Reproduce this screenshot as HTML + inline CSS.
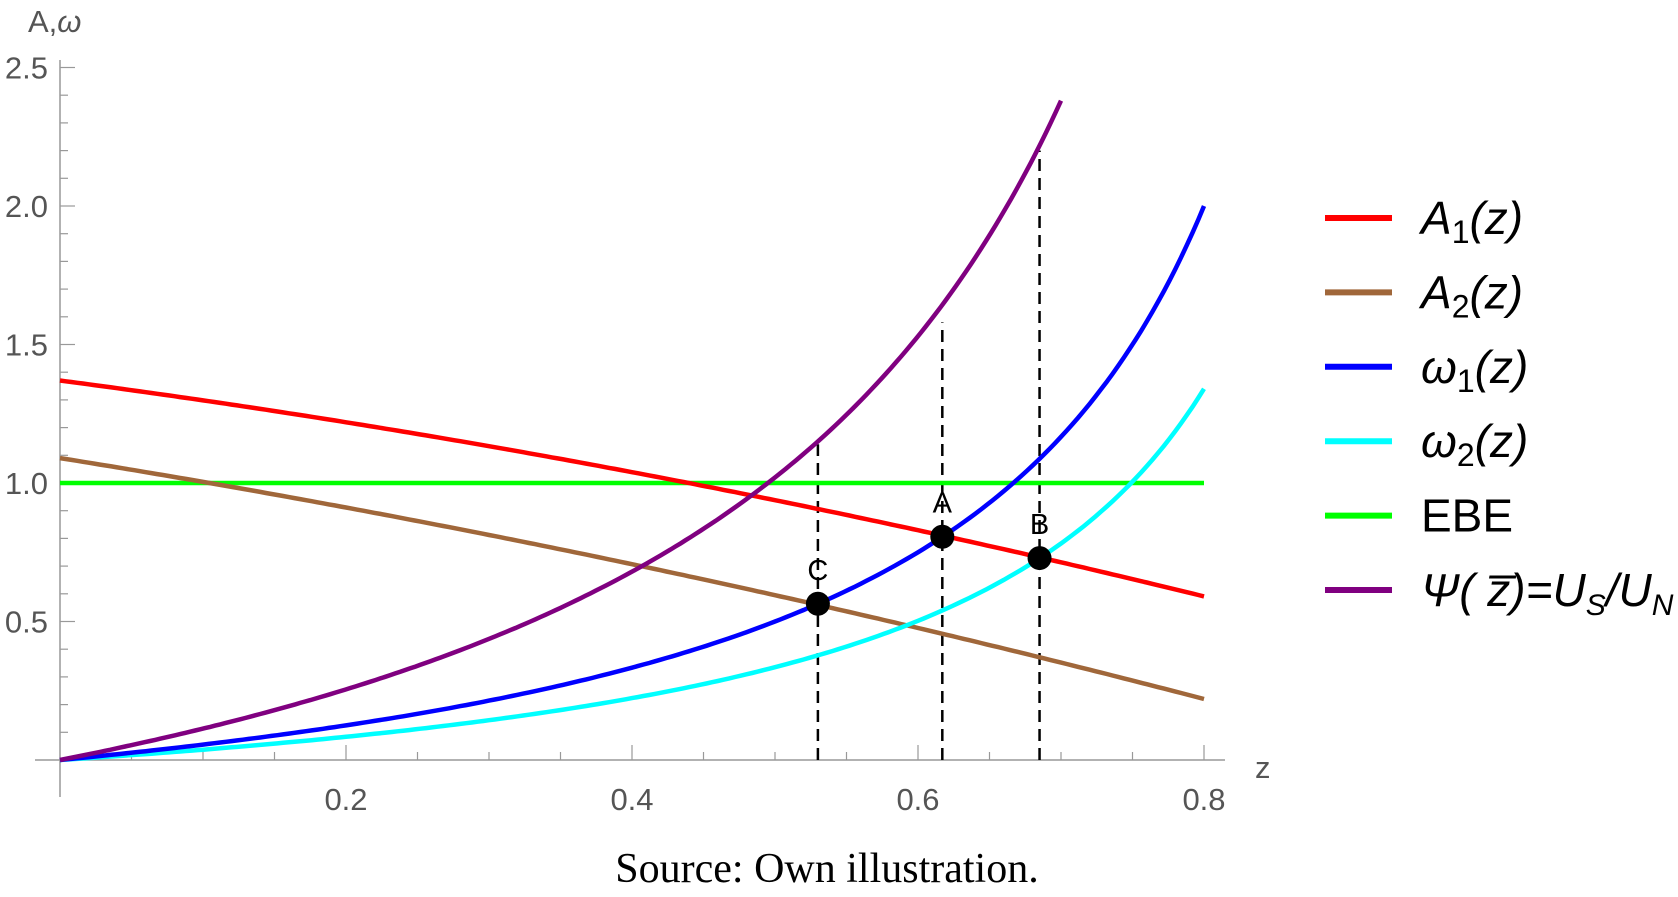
<!DOCTYPE html>
<html><head><meta charset="utf-8"><style>
html,body{margin:0;padding:0;background:#fff;}
svg{display:block;}
</style></head><body>
<svg id="s" width="1678" height="897" xmlns="http://www.w3.org/2000/svg" font-family="Liberation Sans, sans-serif"></svg>
<script>
const X0=60,Y0=760,SX=1430,SY=277;
const px=z=>X0+z*SX, py=v=>Y0-v*SY;
let h='';
h+=`<line x1="${X0}" y1="60" x2="${X0}" y2="797" stroke="#999" stroke-width="1.5"/>`;
h+=`<line x1="35" y1="${Y0}" x2="1225" y2="${Y0}" stroke="#999" stroke-width="1.5"/>`;
for(let i=1;i<=25;i++){const y=py(i/10);const maj=i%5==0;
 h+=`<line x1="${X0}" y1="${y}" x2="${X0+(maj?15:8)}" y2="${y}" stroke="#999" stroke-width="1.2"/>`;
 if(maj)h+=`<text x="48" y="${y+11}" font-size="31" fill="#555" text-anchor="end">${(i/10).toFixed(1)}</text>`;}
for(let i=1;i<=16;i++){const x=px(i*0.05);const maj=i%4==0;
 h+=`<line x1="${x}" y1="${Y0}" x2="${x}" y2="${Y0-(maj?15:8)}" stroke="#999" stroke-width="1.2"/>`;
 if(maj)h+=`<text x="${x}" y="810" font-size="31" fill="#555" text-anchor="middle">${(i*0.05).toFixed(1)}</text>`;}
h+=`<text x="28" y="32" font-size="31" fill="#555">A,<tspan font-style="italic">ω</tspan></text>`;
h+=`<text x="1255" y="778" font-size="31" fill="#555">z</text>`;
function curve(f,a,b,col){let d='';for(let i=0;i<=200;i++){const z=a+(b-a)*i/200;d+=(i?'L':'M')+px(z).toFixed(1)+','+py(f(z)).toFixed(1);}
 h+=`<path d="${d}" fill="none" stroke="${col}" stroke-width="4.5"/>`;}
[[0.53,1.14],[0.617,1.58],[0.685,2.2]].forEach(([z,t])=>{h+=`<line x1="${px(z)}" y1="${Y0}" x2="${px(z)}" y2="${py(t)}" stroke="#000" stroke-width="2.5" stroke-dasharray="12,7"/>`;});
curve(z=>1,0,0.8,'#00ff00');
curve(z=>1.09-0.828*z-0.324*z*z,0,0.8,'#a0673a');
curve(z=>1.37-0.68*z-0.368*z*z,0,0.8,'#ff0000');
curve(z=>0.335*z/(1-z),0,0.8,'#00ffff');
curve(z=>0.5*z/(1-z),0,0.8,'#0000ff');
curve(z=>1.02*z/(1-z),0,0.7,'#800080');
[[0.53,0.564,'C'],[0.617,0.806,'A'],[0.685,0.729,'B']].forEach(([z,v,l])=>{
 h+=`<circle cx="${px(z)}" cy="${py(v)}" r="12" fill="#000"/>`;
 h+=`<text x="${px(z)}" y="${py(v)-24}" font-size="29" text-anchor="middle">${l}</text>`;});
const sub=(s)=>`<tspan font-size="32" font-style="normal" dy="9">${s}</tspan>`;
const leg=[['#ff0000',`<tspan font-style="italic">A</tspan>${sub('1')}<tspan dy="-9" font-style="italic">(z)</tspan>`],
['#a0673a',`<tspan font-style="italic">A</tspan>${sub('2')}<tspan dy="-9" font-style="italic">(z)</tspan>`],
['#0000ff',`<tspan font-style="italic">ω</tspan>${sub('1')}<tspan dy="-9" font-style="italic">(z)</tspan>`],
['#00ffff',`<tspan font-style="italic">ω</tspan>${sub('2')}<tspan dy="-9" font-style="italic">(z)</tspan>`],
['#00ff00','EBE'],
['#800080','<tspan font-style="italic">Ψ( z̅)=U</tspan><tspan font-size="30" dy="9" font-style="italic">S</tspan><tspan dy="-9" font-style="italic">/U</tspan><tspan font-size="30" dy="9" font-style="italic">N</tspan>']];
leg.forEach(([c,t],i)=>{const y=218+i*74.4;
 h+=`<line x1="1325" y1="${y}" x2="1392" y2="${y}" stroke="${c}" stroke-width="6"/>`;
 h+=`<text x="1421" y="${y+16}" font-size="46" fill="#000">${t}</text>`;});
h+=`<text x="827" y="882" font-size="42" font-family="Liberation Serif, serif" text-anchor="middle">Source:  Own illustration.</text>`;
document.getElementById('s').innerHTML=h;
</script>
</body></html>
